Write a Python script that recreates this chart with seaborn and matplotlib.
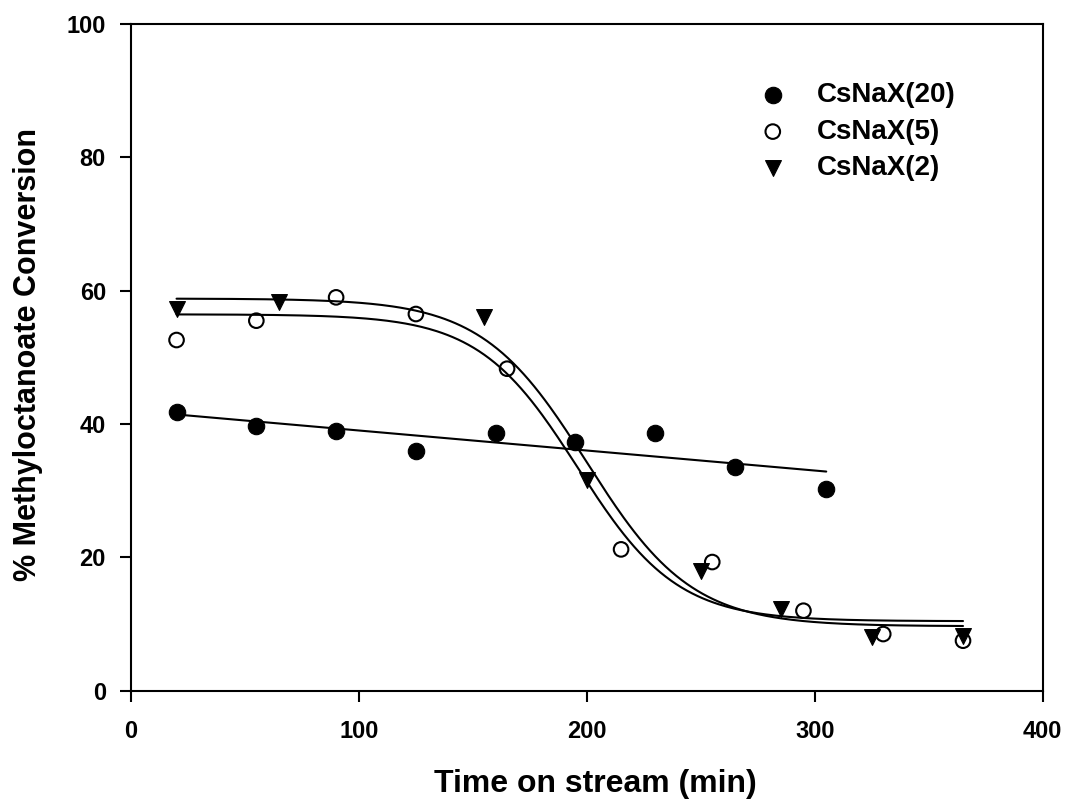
import numpy as np
import pandas as pd
import matplotlib
matplotlib.use("Agg")
import matplotlib.pyplot as plt
import seaborn as sns

# Conversion of methyl octanoate vs. time on stream for three catalysts
t_20 = [20, 55, 90, 125, 160, 195, 230, 265, 305]
conv_20 = [41.8, 39.7, 38.9, 35.9, 38.7, 37.3, 38.7, 33.6, 30.3]

t_5 = [20, 55, 90, 125, 165, 215, 255, 295, 330, 365]
conv_5 = [52.6, 55.5, 59.0, 56.5, 48.3, 21.2, 19.3, 12.0, 8.5, 7.5]

t_2 = [20, 65, 155, 200, 250, 285, 325, 365]
conv_2 = [57.2, 58.3, 56.1, 31.6, 17.9, 12.2, 8.1, 8.2]

labels = ["CsNaX(20)", "CsNaX(5)", "CsNaX(2)"]
x_ticks = [0, 100, 200, 300, 400]
y_ticks = [0, 20, 40, 60, 80, 100]


def fit_sigmoid(x, y):
    """Least-squares fit of y = y0 + a / (1 + exp((x - x0) / b))."""
    x = np.asarray(x, float)
    y = np.asarray(y, float)
    best = None
    for x0 in np.arange(150, 250, 0.5):
        for b in np.arange(4, 40, 0.25):
            s = 1.0 / (1.0 + np.exp((x - x0) / b))
            A = np.column_stack([np.ones_like(x), s])
            coef = np.linalg.lstsq(A, y, rcond=None)[0]
            r = np.sum((A @ coef - y) ** 2)
            if best is None or r < best[0]:
                best = (r, coef[0], coef[1], x0, b)
    _, y0, a, x0, b = best
    return lambda xx: y0 + a / (1.0 + np.exp((xx - x0) / b))


sns.set_theme(style="ticks")
plt.rcParams["font.family"] = ["Liberation Sans", "DejaVu Sans"]
plt.rcParams["font.weight"] = "bold"
plt.rcParams["text.color"] = "black"
plt.rcParams["axes.labelcolor"] = "black"

fig = plt.figure(figsize=(10.69, 8.0), dpi=100)
ax = fig.add_axes([0.1225, 0.1366, 0.853, 0.8334])

# Fitted curves
sns.regplot(x=t_20, y=conv_20, ci=None, scatter=False, truncate=True,
            line_kws=dict(color="black", lw=1.5), ax=ax)
for tt, cc in [(t_5, conv_5), (t_2, conv_2)]:
    f = fit_sigmoid(tt, cc)
    xs = np.linspace(min(tt), max(tt), 300)
    sns.lineplot(x=xs, y=f(xs), color="black", lw=1.5, ax=ax, legend=False)

# Measured points
sns.scatterplot(x=t_20, y=conv_20, marker="o", s=140, color="black",
                edgecolor="black", linewidth=0.8, label=labels[0], ax=ax, zorder=3)
sns.scatterplot(x=t_5, y=conv_5, marker="o", s=110, facecolor="none",
                edgecolor="black", linewidth=1.5, label=labels[1], ax=ax, zorder=3)
sns.scatterplot(x=t_2, y=conv_2, marker="v", s=130, color="black",
                edgecolor="black", linewidth=0.8, label=labels[2], ax=ax, zorder=3)

ax.set_xlim(0, 400)
ax.set_ylim(0, 100)
ax.set_xticks(x_ticks)
ax.set_yticks(y_ticks)
ax.tick_params(axis="both", direction="out", length=8, width=1.5,
               labelsize=17, colors="black")
ax.tick_params(axis="x", pad=13)
ax.tick_params(axis="y", pad=10)
for lab in ax.get_xticklabels() + ax.get_yticklabels():
    lab.set_fontweight("bold")
for sp in ax.spines.values():
    sp.set_visible(True)
    sp.set_linewidth(1.5)
    sp.set_color("black")

ax.set_xlabel("Time on stream (min)", fontsize=23, fontweight="bold")
ax.set_ylabel("% Methyloctanoate Conversion", fontsize=22, fontweight="bold")
ax.xaxis.set_label_coords(0.509, -0.117)
ax.yaxis.set_label_coords(-0.097, 0.505)

leg = ax.legend(loc="upper left", bbox_to_anchor=(0.646, 0.95), frameon=False,
                fontsize=20, handletextpad=0.58, labelspacing=0.38,
                markerscale=1.0)
for txt in leg.get_texts():
    txt.set_fontweight("bold")

fig.savefig("out.png", dpi=100)
